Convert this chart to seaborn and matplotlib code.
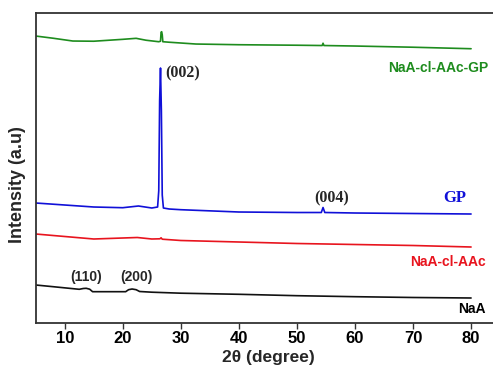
import matplotlib
matplotlib.use("Agg")
import matplotlib.pyplot as plt
import seaborn as sns
import pandas as pd

# ---- data (2θ in degrees, intensity in arbitrary units, stacked offsets) ----
naa_x = [5, 8, 12.5, 13.2, 13.7, 14.3, 14.8, 17, 20.5, 21.0, 21.6, 22.3, 22.9, 25, 30, 40, 50, 60, 70, 80]
naa_y = [37.7, 36.0, 33.4, 34.2, 34.4, 33.5, 31.0, 31.0, 31.0, 33.0, 33.7, 33.0, 31.2, 30.5, 29.5,
         28.4, 27.0, 26.0, 25.2, 24.7]

aac_x = [5, 10, 15, 20, 22.5, 25, 26.4, 26.6, 26.8, 30, 40, 50, 60, 70, 80]
aac_y = [88.7, 86.2, 83.7, 84.7, 85.2, 83.7, 83.9, 84.9, 83.5, 82.2, 80.7, 79.2, 78.2, 77.2, 75.7]

gp_x = [5, 10, 15, 20, 22.7, 25, 26.0, 26.2, 26.35, 26.5, 26.65, 26.8, 27.0, 28, 30, 40, 50,
        54.2, 54.5, 54.8, 60, 70, 80]
gp_y = [119.7, 117.7, 115.7, 115.0, 116.7, 114.7, 115.7, 132.0, 222.0, 254.7, 212.0, 127.7, 114.7,
        113.7, 113.0, 110.7, 110.2, 110.2, 115.2, 110.2, 109.7, 109.2, 108.7]

comp_x = [5, 8, 11.4, 15, 20, 22.3, 24, 26.2, 26.5, 26.6, 26.7, 26.8, 26.9, 28, 32.6, 40, 50,
          54.35, 54.5, 54.65, 60, 70, 80]
comp_y = [286.7, 284.5, 281.7, 281.5, 283.4, 284.4, 282.5, 281.0, 281.5, 290.5, 291.0, 288.0, 281.0,
          280.5, 278.7, 278.0, 277.5, 277.2, 279.5, 277.2, 276.7, 275.5, 274.0]

series_names = ["NaA", "NaA-cl-AAc", "GP", "NaA-cl-AAc-GP"]
series_colors = ["#111111", "#e8141e", "#1010d8", "#1e8c1e"]
xticks = [10, 20, 30, 40, 50, 60, 70, 80]

frames = []
for name, xs, ys in zip(series_names, [naa_x, aac_x, gp_x, comp_x], [naa_y, aac_y, gp_y, comp_y]):
    frames.append(pd.DataFrame({"two_theta": xs, "intensity": ys, "sample": name}))
df = pd.concat(frames, ignore_index=True)

sns.set_style("ticks")
plt.rcParams["font.family"] = ["Liberation Sans", "DejaVu Sans"]

fig = plt.figure(figsize=(4.93, 3.69), dpi=100)
ax = fig.add_axes([0.0724, 0.1255, 0.942, 0.84])

sns.lineplot(data=df, x="two_theta", y="intensity", hue="sample", hue_order=series_names,
             palette=dict(zip(series_names, series_colors)), linewidth=1.2, legend=False,
             sort=False, estimator=None, ax=ax)

ax.set_xlim(5, 85)
ax.set_ylim(0, 310)
ax.set_xticks(xticks)
ax.set_xticklabels([str(t) for t in xticks], fontweight="bold", fontsize=12)
ax.set_yticks([])
ax.tick_params(axis="x", direction="out", length=4, width=1, colors="#333333", labelcolor="black", pad=2)
for s in ["left", "bottom", "top"]:
    ax.spines[s].set_visible(True)
    ax.spines[s].set_color("#333333")
    ax.spines[s].set_linewidth(1.3)
ax.spines["right"].set_visible(False)

ax.set_xlabel("2θ (degree)", fontweight="bold", fontsize=12.5, labelpad=3)
ax.set_ylabel("Intensity (a.u)", fontweight="bold", fontsize=13)
ax.yaxis.set_label_coords(-0.02, 0.447)

# annotations
serif = ["Liberation Serif", "DejaVu Serif"]
ax.text(27.3, 249.7, "(002)", fontfamily=serif, fontweight="bold", fontsize=11.5, ha="left", va="center")
ax.text(55.9, 124.7, "(004)", fontfamily=serif, fontweight="bold", fontsize=11.5, ha="center", va="center")
ax.text(77.2, 124.7, "GP", fontfamily=serif, fontweight="bold", fontsize=12, color=series_colors[2],
        ha="center", va="center")
ax.text(82.9, 254.7, "NaA-cl-AAc-GP", fontweight="bold", fontsize=10, color=series_colors[3],
        ha="right", va="center")
ax.text(82.55, 60.7, "NaA-cl-AAc", fontweight="bold", fontsize=10, color=series_colors[1],
        ha="right", va="center")
ax.text(82.55, 13.7, "NaA", fontweight="bold", fontsize=10, color="black", ha="right", va="center")
ax.text(13.7, 45.7, "(110)", fontweight="bold", fontsize=10, ha="center", va="center")
ax.text(22.3, 45.7, "(200)", fontweight="bold", fontsize=10, ha="center", va="center")

fig.savefig("out.png", dpi=100)
